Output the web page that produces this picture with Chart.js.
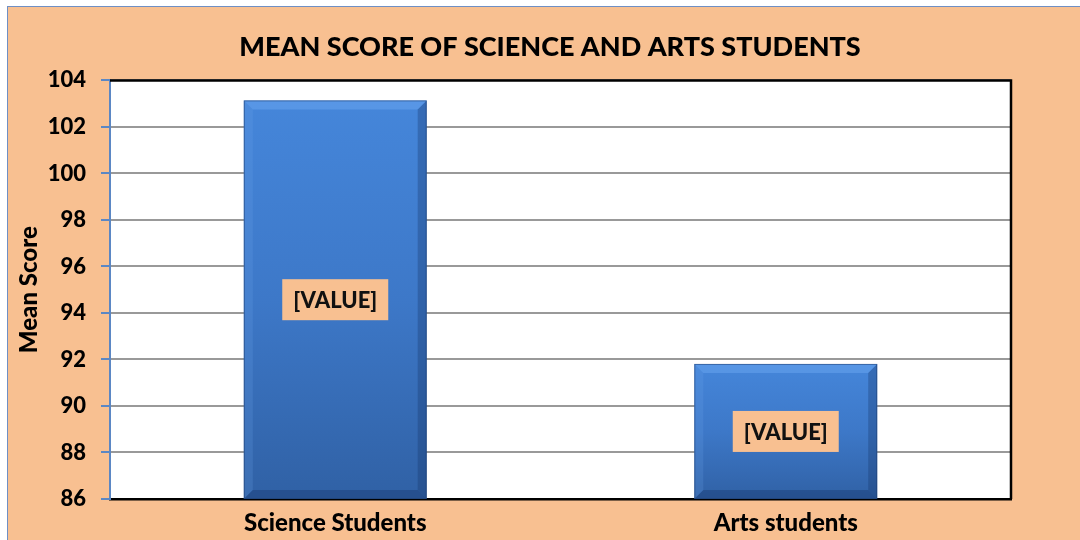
<!DOCTYPE html>
<html>
<head>
<meta charset="utf-8">
<script src="https://cdn.jsdelivr.net/npm/chart.js@4.4.1/dist/chart.umd.min.js"></script>
<style>
  html, body { margin: 0; padding: 0; background: #fff; }
  #wrap {
    position: absolute; left: 7px; top: 6px; width: 1073px; height: 534px;
    background: #F8C091; border-top: 1px solid #6F8FC4; border-left: 1px solid #6F8FC4;
  }
  #chart { display: block; }
</style>
</head>
<body>
<div id="wrap"><canvas id="chart" width="1072" height="533"></canvas></div>
<script>
const categories = ["Science Students", "Arts students"];
const meanScores = [103.14, 91.81];
const valueLabels = ["[VALUE]", "[VALUE]"];
const yTicks = [86, 88, 90, 92, 94, 96, 98, 100, 102, 104];

const PEACH = "#F8C091";
const FONT = "Lato, 'Open Sans', sans-serif";
const WEIGHT = 900;

// bars are clipped at the axis (min is 86), so use the area bottom as base
const barBase = (chart, bar) => Math.min(bar.base, chart.chartArea.bottom);

function barFill(ctx) {
  const chart = ctx.chart;
  const area = chart.chartArea;
  if (!area) return "#3F7BCB";
  const top = chart.scales.y.getPixelForValue(meanScores[ctx.dataIndex]);
  const g = chart.ctx.createLinearGradient(0, top, 0, area.bottom);
  g.addColorStop(0, "#4586DA");
  g.addColorStop(0.5, "#3D78C8");
  g.addColorStop(1, "#3061A5");
  return g;
}

// white plot background + black frame on top/right
const plotFrame = {
  id: "plotFrame",
  beforeDraw(chart) {
    const { ctx, chartArea: a } = chart;
    ctx.save();
    ctx.fillStyle = "#fff";
    ctx.fillRect(a.left, a.top, a.right - a.left, a.bottom - a.top);
    ctx.restore();
  },
  afterDraw(chart) {
    const { ctx, chartArea: a } = chart;
    ctx.save();
    ctx.strokeStyle = "#000";
    ctx.lineWidth = 2.5;
    ctx.beginPath();
    ctx.moveTo(a.left, a.top);
    ctx.lineTo(a.right, a.top);
    ctx.lineTo(a.right, a.bottom);
    ctx.stroke();
    ctx.restore();
  }
};

// bevel edges on each bar
const bevel = {
  id: "bevel",
  afterDatasetsDraw(chart) {
    const ctx = chart.ctx;
    const b = 9;
    chart.getDatasetMeta(0).data.forEach((bar) => {
      const l = bar.x - bar.width / 2, r = bar.x + bar.width / 2;
      const t = bar.y, bt = barBase(chart, bar);
      ctx.save();
      ctx.fillStyle = "rgba(110,170,245,0.45)";
      ctx.beginPath();
      ctx.moveTo(l, t); ctx.lineTo(r, t); ctx.lineTo(r - b, t + b); ctx.lineTo(l + b, t + b);
      ctx.fill();
      ctx.fillStyle = "rgba(110,165,235,0.2)";
      ctx.beginPath();
      ctx.moveTo(l, t); ctx.lineTo(l + b, t + b); ctx.lineTo(l + b, bt - b); ctx.lineTo(l, bt);
      ctx.fill();
      ctx.fillStyle = "rgba(20,50,100,0.3)";
      ctx.beginPath();
      ctx.moveTo(r, t); ctx.lineTo(r - b, t + b); ctx.lineTo(r - b, bt - b); ctx.lineTo(r, bt);
      ctx.fill();
      ctx.fillStyle = "rgba(20,50,100,0.35)";
      ctx.beginPath();
      ctx.moveTo(l, bt); ctx.lineTo(l + b, bt - b); ctx.lineTo(r - b, bt - b); ctx.lineTo(r, bt);
      ctx.fill();
      ctx.strokeStyle = "rgba(30,60,110,0.55)";
      ctx.lineWidth = 1;
      ctx.strokeRect(l + 0.5, t + 0.5, bar.width - 1, bt - t - 1);
      ctx.restore();
    });
  }
};

// "[VALUE]" boxes in the middle of each bar
const valueBoxes = {
  id: "valueBoxes",
  afterDatasetsDraw(chart) {
    const ctx = chart.ctx;
    chart.getDatasetMeta(0).data.forEach((bar, i) => {
      const cy = (bar.y + barBase(chart, bar)) / 2;
      const w = 106, h = 41;
      ctx.save();
      ctx.fillStyle = PEACH;
      ctx.fillRect(bar.x - w / 2, cy - h / 2, w, h);
      ctx.fillStyle = "#111";
      ctx.font = WEIGHT + " 22px " + FONT;
      ctx.textAlign = "center";
      ctx.textBaseline = "middle";
      ctx.fillText(valueLabels[i], bar.x, cy + 1);
      ctx.restore();
    });
  }
};

new Chart(document.getElementById("chart"), {
  type: "bar",
  data: {
    labels: categories,
    datasets: [{
      data: meanScores,
      backgroundColor: barFill,
      borderWidth: 0,
      barPercentage: 0.406,
      categoryPercentage: 1
    }]
  },
  options: {
    responsive: false,
    animation: false,
    layout: { padding: { left: 12, right: 0, top: 0, bottom: 0 } },
    plugins: {
      legend: { display: false },
      tooltip: { enabled: false },
      title: {
        display: true,
        text: "MEAN SCORE OF SCIENCE AND ARTS STUDENTS",
        color: "#000",
        font: { family: FONT, size: 27, weight: WEIGHT },
        padding: { top: 24, bottom: 17 }
      }
    },
    scales: {
      x: {
        grid: { display: false, drawTicks: false },
        border: { color: "#000", width: 2.5 },
        ticks: { color: "#000", font: { family: FONT, size: 24, weight: WEIGHT }, padding: 10 },
        afterFit: (s) => { s.height = 41; }
      },
      y: {
        min: 86,
        max: 104,
        afterBuildTicks: (s) => { s.ticks = yTicks.map((v) => ({ value: v })); },
        grid: {
          color: "#999",
          lineWidth: 2,
          tickColor: "#5B87C4",
          tickLength: 9
        },
        border: { color: "#5B87C4", width: 2 },
        ticks: { color: "#000", font: { family: FONT, size: 22, weight: WEIGHT }, padding: 15 },
        title: {
          display: true,
          text: "Mean Score",
          color: "#000",
          font: { family: FONT, size: 24, weight: WEIGHT },
          padding: { top: -5, bottom: 0 }
        },
        afterFit: (s) => { s.width = 90; }
      },
      // empty right-hand axis: keeps the peach margin right of the plot
      yRight: {
        position: "right",
        min: 86,
        max: 104,
        grid: { display: false, drawTicks: false },
        border: { display: false },
        ticks: { display: false },
        afterFit: (s) => { s.width = 69; }
      }
    }
  },
  plugins: [plotFrame, bevel, valueBoxes]
});
</script>
</body>
</html>
